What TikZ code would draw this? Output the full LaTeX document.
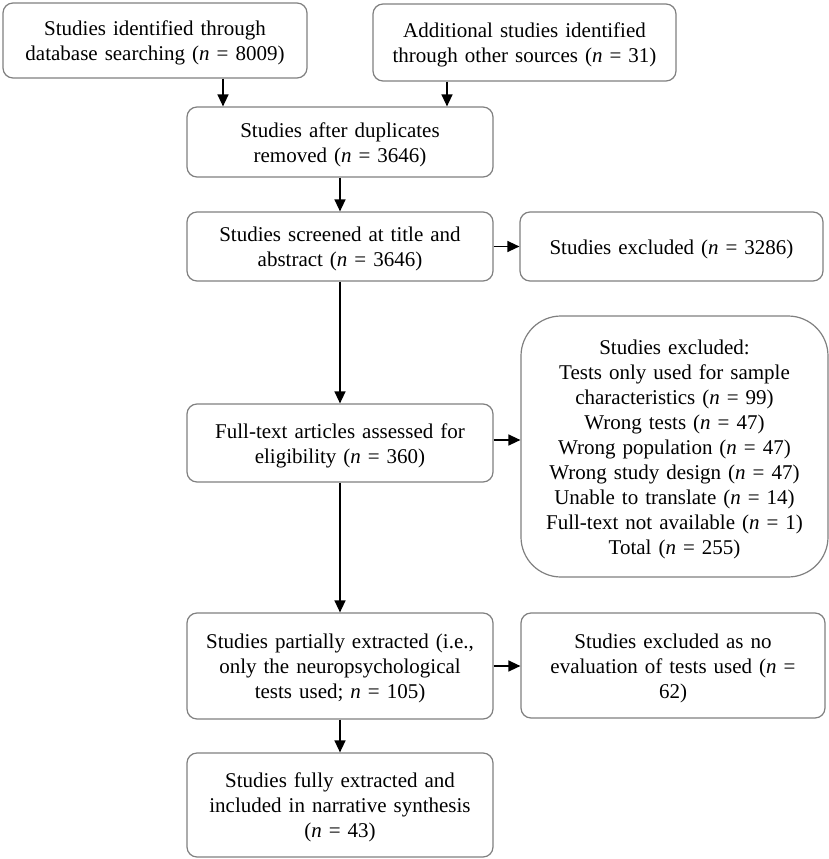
\documentclass[tikz,border=0pt]{standalone}
\usepackage{fontspec}
\setmainfont{Liberation Serif}
\usetikzlibrary{arrows.meta}
\definecolor{boxgray}{RGB}{128,128,128}
\newcommand{\mainfs}{\fontsize{21}{25}\selectfont}
\tikzset{
  fbox/.style={draw=boxgray, line width=1.2pt, rounded corners=10pt, align=center, inner sep=0pt, font=\mainfs,
    execute at begin node={\rule{0pt}{20pt}}},
  arr/.style={line width=1.4pt, -{Triangle[length=12pt,width=11pt]}}
}
\begin{document}
\begin{tikzpicture}[x=1pt,y=-1pt]
\useasboundingbox[fill=white] (0,0) rectangle (829,859);
\node[fbox, minimum width=304pt, minimum height=75pt, text width=294pt] (b1) at (155,40.5)
  {Studies identified through\\database searching (\textit{n} = 8009)};
\node[fbox, minimum width=303pt, minimum height=77pt, text width=293pt] (b2) at (524.5,42.5)
  {Additional studies identified\\through other sources (\textit{n} = 31)};
\node[fbox, minimum width=306pt, minimum height=70pt, text width=296pt] (b3) at (340,142)
  {Studies after duplicates\\removed (\textit{n} = 3646)};
\node[fbox, minimum width=306pt, minimum height=69pt, text width=296pt] (b4) at (340,246.5)
  {Studies screened at title and\\abstract (\textit{n} = 3646)};
\node[fbox, minimum width=303pt, minimum height=69pt, text width=293pt] (b5) at (671.5,246.5)
  {Studies excluded (\textit{n} = 3286)};
\node[fbox, minimum width=306pt, minimum height=78pt, text width=296pt] (b6) at (340,443)
  {Full-text articles assessed for\\eligibility (\textit{n} = 360)};
\node[fbox, rounded corners=40pt, minimum width=307pt, minimum height=261pt, text width=297pt] (b7) at (674.5,446.5)
  {Studies excluded:\\Tests only used for sample\\characteristics (\textit{n} = 99)\\Wrong tests (\textit{n} = 47)\\Wrong population (\textit{n} = 47)\\Wrong study design (\textit{n} = 47)\\Unable to translate (\textit{n} = 14)\\Full-text not available (\textit{n} = 1)\\Total (\textit{n} = 255)};
\node[fbox, minimum width=306pt, minimum height=106pt, text width=298pt] (b8) at (340,666)
  {Studies partially extracted (i.e.,\\only the neuropsychological\\tests used; \textit{n} = 105)};
\node[fbox, minimum width=304pt, minimum height=105pt, text width=296pt] (b9) at (673,665.5)
  {Studies excluded as no\\evaluation of tests used (\textit{n} =\\62)};
\node[fbox, minimum width=306pt, minimum height=104pt, text width=298pt] (b10) at (340,805)
  {Studies fully extracted and\\included in narrative synthesis\\(\textit{n} = 43)};
% connectors
\draw[arr] ([xshift=68pt]b1.south) -- ([xshift=68pt]b1.south |- b3.north);
\draw[arr] ([xshift=-77.5pt]b2.south) -- ([xshift=-77.5pt]b2.south |- b3.north);
\draw[arr] (b3.south) -- (b4.north);
\draw[arr] (b4.east) -- (b4.east -| b5.west);
\draw[arr] (b4.south) -- (b6.north);
\draw[arr] ([yshift=3pt]b6.east) -- ([yshift=3pt]b6.east -| b7.west);
\draw[arr] (b6.south) -- (b8.north);
\draw[arr] (b8.east) -- (b8.east -| b9.west);
\draw[arr] (b8.south) -- (b10.north);
\end{tikzpicture}
\end{document}
